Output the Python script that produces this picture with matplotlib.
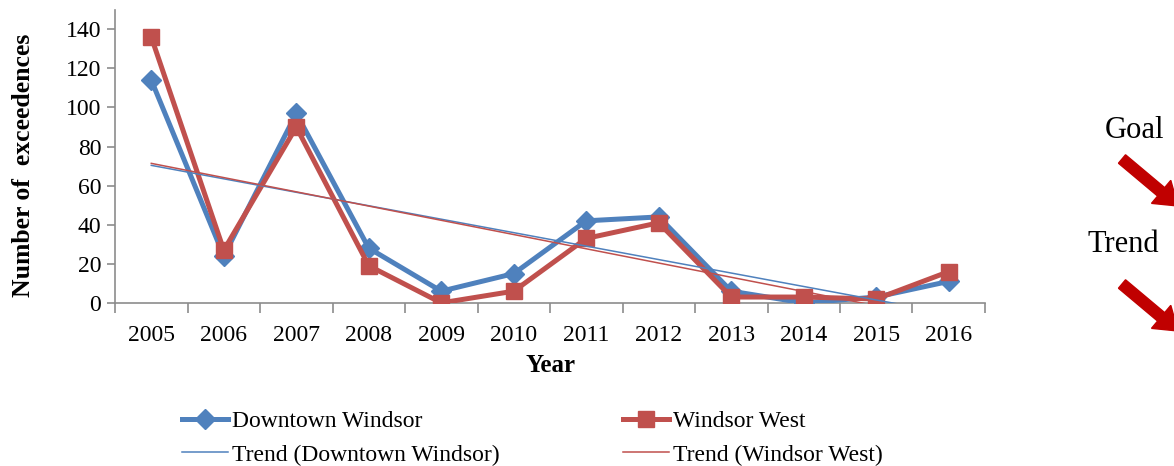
import numpy as np
import matplotlib
matplotlib.use('Agg')
import matplotlib.pyplot as plt
from matplotlib.patches import FancyArrow

# Data
years = ['2005', '2006', '2007', '2008', '2009', '2010',
         '2011', '2012', '2013', '2014', '2015', '2016']
downtown = [114, 24, 97, 28, 6, 15, 42, 44, 6, 0, 3, 11]
west = [136, 27, 90, 19, 0, 6, 33, 41, 3, 3, 2, 16]

BLUE = '#4F81BD'
RED = '#C0504D'
GRAY = '#8C8C8C'

plt.rcParams['font.family'] = ['Liberation Serif', 'DejaVu Serif']

fig = plt.figure(figsize=(11.74, 4.66), dpi=100)
ax = fig.add_axes([0.098, 0.35, 0.741, 0.629])

x = np.arange(len(years))

# linear trend lines (as Excel does)
k_d, b_d = np.polyfit(x, downtown, 1)
k_w, b_w = np.polyfit(x, west, 1)

l1, = ax.plot(x, downtown, color=BLUE, lw=3.6, marker='D', ms=10,
              label='Downtown Windsor', zorder=3)
l2, = ax.plot(x, west, color=RED, lw=3.6, marker='s', ms=12,
              label='Windsor West', zorder=4)
t1, = ax.plot(x, k_d * x + b_d, color=BLUE, lw=1.1,
              label='Trend (Downtown Windsor)', zorder=5)
t2, = ax.plot(x, k_w * x + b_w, color=RED, lw=1.1,
              label='Trend (Windsor West)', zorder=5)

ax.set_xlim(-0.5, len(years) - 0.5)
ax.set_ylim(0, 150)
ax.set_yticks(range(0, 141, 20))
ax.set_xticks(x)
ax.set_xticklabels(years)
ax.set_xticks(np.arange(-0.5, len(years), 1), minor=True)

for s in ['top', 'right']:
    ax.spines[s].set_visible(False)
for s in ['left', 'bottom']:
    ax.spines[s].set_color(GRAY)
    ax.spines[s].set_linewidth(1.2)

ax.tick_params(axis='x', which='major', length=0, labelsize=17, pad=16)
ax.tick_params(axis='x', which='minor', length=7, color=GRAY, width=1.2)
ax.tick_params(axis='y', length=6, color=GRAY, width=1.2, labelsize=17, pad=4)

ax.set_xlabel('Year', fontsize=18, fontweight='bold', labelpad=6)
ax.set_ylabel('Number of  exceedences', fontsize=18.5, fontweight='bold', labelpad=20)
ax.yaxis.set_label_coords(-0.092, 0.47)

fig.legend([l1, t1, l2, t2],
           [h.get_label() for h in [l1, t1, l2, t2]],
           ncol=2, loc='lower left', bbox_to_anchor=(0.137, -0.045),
           frameon=False, fontsize=17, columnspacing=5.2,
           handlelength=1.95, handletextpad=0.17, labelspacing=0.5)

# Goal / Trend annotations on the right
fig.text(0.992, 0.72, 'Goal', fontsize=22, ha='right', va='center')
fig.text(0.987, 0.476, 'Trend', fontsize=22, ha='right', va='center')
for y0 in (3.07, 1.82):
    fig.patches.append(FancyArrow(11.22, y0, 0.56, -0.47, width=0.11,
                                  head_width=0.3, head_length=0.22,
                                  length_includes_head=True,
                                  color='#C00000', transform=fig.dpi_scale_trans))

fig.savefig('out.png', dpi=100)
